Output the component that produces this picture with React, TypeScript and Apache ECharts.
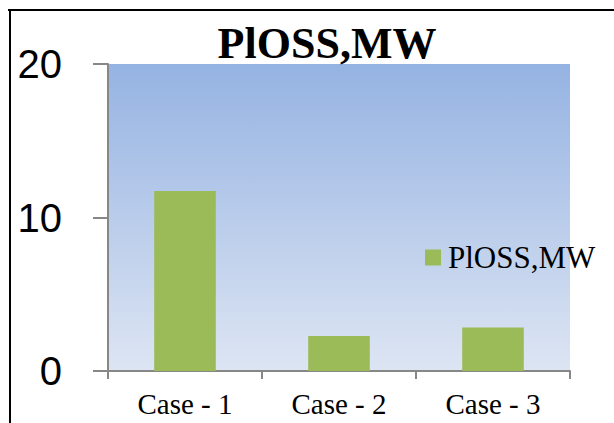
import React, { useEffect, useRef } from "react";
import * as echarts from "echarts";

const categories = ["Case - 1", "Case - 2", "Case - 3"];
const plossValues = [11.72, 2.28, 2.83];
const seriesName = "PlOSS,MW";
const titleText = "PlOSS,MW";

export default function App() {
  const ref = useRef<HTMLDivElement>(null);
  useEffect(() => {
    if (!ref.current) return;
    const chart = echarts.init(ref.current, undefined, { renderer: "svg" });
    chart.setOption({
      animation: false,
      backgroundColor: "#ffffff",
      title: {
        text: titleText,
        left: 322,
        textAlign: "center",
        top: 16,
        textStyle: {
          fontFamily: "Liberation Serif",
          fontWeight: "bold",
          fontSize: 44,
          color: "#000000",
        },
      },
      grid: {
        left: 108,
        right: 44,
        top: 64,
        bottom: 52,
        show: true,
        borderWidth: 0,
        backgroundColor: new echarts.graphic.LinearGradient(0, 0, 0, 1, [
          { offset: 0, color: "#95B3E2" },
          { offset: 1, color: "#DDE5F3" },
        ]),
      },
      legend: {
        left: 420,
        top: 237,
        padding: 5,
        orient: "vertical",
        icon: "rect",
        itemWidth: 16,
        itemHeight: 16,
        data: [seriesName],
        textStyle: {
          fontFamily: "Liberation Serif",
          fontSize: 31,
          color: "#000000",
          padding: [0, 0, 0, 2],
        },
      },
      xAxis: {
        type: "category",
        data: categories,
        axisLine: { show: true, lineStyle: { color: "#878787", width: 2 } },
        axisTick: { show: true, length: 8, lineStyle: { color: "#878787", width: 2 } },
        axisLabel: {
          fontFamily: "Liberation Serif",
          fontSize: 29,
          color: "#000000",
          margin: 18,
        },
        splitLine: { show: false },
      },
      yAxis: {
        type: "value",
        min: 0,
        max: 20,
        interval: 10,
        axisLine: { show: true, lineStyle: { color: "#878787", width: 2 } },
        axisTick: { show: true, length: 15, lineStyle: { color: "#878787", width: 2 } },
        axisLabel: {
          fontFamily: "Liberation Sans",
          fontSize: 40,
          color: "#000000",
          margin: 46,
        },
        splitLine: { show: false },
      },
      series: [
        {
          name: seriesName,
          type: "bar",
          data: plossValues,
          barWidth: "40%",
          itemStyle: { color: "#9BBB59" },
        },
      ],
      graphic: [
        {
          type: "line",
          shape: { x1: 8, y1: 10, x2: 614, y2: 10 },
          style: { stroke: "#000000", lineWidth: 2 },
        },
        {
          type: "line",
          shape: { x1: 10, y1: 10, x2: 10, y2: 423 },
          style: { stroke: "#000000", lineWidth: 2 },
        },
      ],
    });
    return () => chart.dispose();
  }, []);
  return (
    <div
      ref={ref}
      style={{ position: "fixed", left: 0, top: 0, width: 614, height: 423 }}
    />
  );
}
